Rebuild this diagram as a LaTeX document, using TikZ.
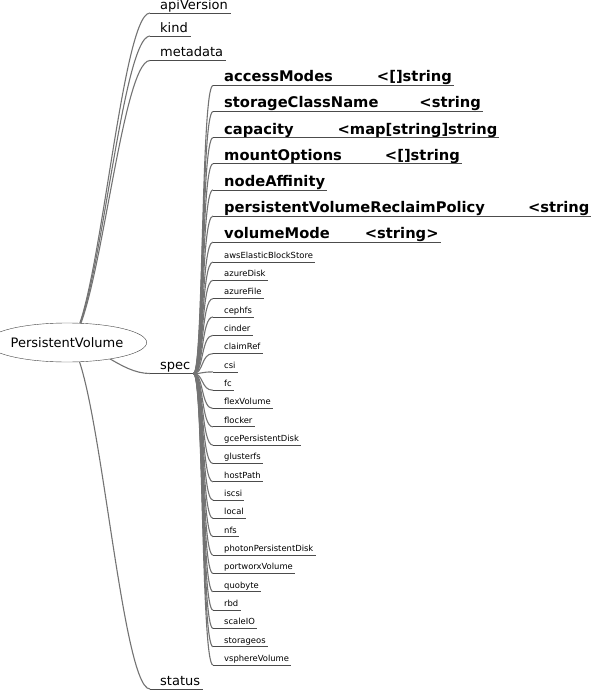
\documentclass[tikz,border=0pt]{standalone}
\usepackage{fontspec}
\setmainfont{DejaVu Sans}
\usetikzlibrary{positioning, shapes.geometric, backgrounds}

\begin{document}
\begin{tikzpicture}[
    x=1pt, y=-1pt,
    edge/.style={black!55, line width=1.1pt},
    uline/.style={black!70, line width=0.8pt},
    root/.style={ellipse, draw=black!75, fill=white, minimum width=131pt,
        minimum height=39pt, inner sep=0pt, font=\fontsize{13}{15}\selectfont},
    field/.style={anchor=south west, inner xsep=3pt, inner ysep=0.5pt,
        text depth=3pt, font=\fontsize{13}{15}\selectfont},
    prop/.style={field, inner xsep=2pt, font=\fontsize{14.7}{17}\selectfont\bfseries},
    vol/.style={field, inner xsep=2pt, font=\fontsize{8.4}{10}\selectfont}
]

\useasboundingbox (0,0) rectangle (590,690);

% --- root ---
\node[root] (pv) at (67,342.5) {PersistentVolume};

% --- top level fields ---
\node[field] (api)    at (157,13)  {apiVersion};
\node[field] (kind)   at (157,36)  {kind};
\node[field] (meta)   at (157,60.5)  {metadata};
\node[field] (spec)   at (157,373.5) {spec};
\node[field] (status) at (157,689) {status};

\begin{scope}[on background layer]
    \foreach \n in {api, kind, meta, spec, status}{
        \draw[edge] (pv.center) .. controls +(30,0) and +(-30,0) .. ([xshift=-7pt]\n.south west);
    }
\end{scope}
\foreach \n in {api, kind, meta, spec, status}{
    \draw[uline] ([xshift=-7pt]\n.south west) -- (\n.south east);
}

% --- spec properties (bold) ---
\foreach \n/\g/\t [count=\i from 0] in {
    accessModes/44/{<[]string},
    storageClassName/41/{<string},
    capacity/44/{<map[string]string},
    mountOptions/43/{<[]string},
    nodeAffinity/0/{},
    persistentVolumeReclaimPolicy/43/{<string},
    volumeMode/35/{<string>}
}{
    \node[prop] (p\i) at (222,{85.5+26.1*\i}) {\n\hspace{\g pt}\t};
    \draw[edge] (spec.south east) .. controls +(10,0) and +(-12,0) .. ([xshift=-9pt]p\i.south west);
    \draw[uline] ([xshift=-9pt]p\i.south west) -- (p\i.south east);
}

% --- volume sources ---
\foreach \v [count=\i from 0] in {
    awsElasticBlockStore, azureDisk, azureFile, cephfs, cinder, claimRef,
    csi, fc, flexVolume, flocker, gcePersistentDisk, glusterfs, hostPath,
    iscsi, local, nfs, photonPersistentDisk, portworxVolume, quobyte, rbd,
    scaleIO, storageos, vsphereVolume
}{
    \node[vol] (v\i) at (222,{262+18.32*\i}) {\v};
    \draw[edge] (spec.south east) .. controls +(10,0) and +(-12,0) .. ([xshift=-9pt]v\i.south west);
    \draw[uline] ([xshift=-9pt]v\i.south west) -- (v\i.south east);
}

\end{tikzpicture}
\end{document}
